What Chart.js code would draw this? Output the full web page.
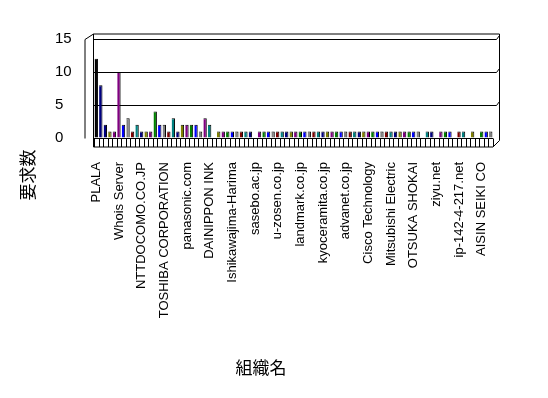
<!DOCTYPE html>
<html>
<head>
<meta charset="utf-8">
<script src="https://cdn.jsdelivr.net/npm/chart.js@4"></script>
<style>
  body { margin: 0; background: #ffffff; }
  #wrap { width: 548px; height: 398px; }
</style>
</head>
<body>
<div id="wrap"><canvas id="chart" width="548" height="398"></canvas></div>
<script>
// organisation names that appear on the axis (every 5th category)
const shownNames = [
  'PLALA', 'Whois Server', 'NTTDOCOMO.CO.JP', 'TOSHIBA CORPORATION',
  'panasonic.com', 'DAINIPPON INK', 'Ishikawajima-Harima', 'sasebo.ac.jp',
  'u-zosen.co.jp', 'landmark.co.jp', 'kyoceramita.co.jp', 'advanet.co.jp',
  'Cisco Technology', 'Mitsubishi Electric', 'OTSUKA SHOKAI', 'ziyu.net',
  'ip-142-4-217.net', 'AISIN SEIKI CO'
];

// request counts per organisation
const requestCounts = [
  12, 8, 2, 1, 1, 10, 2, 3, 1, 2,
  1, 1, 1, 4, 2, 2, 1, 3, 1, 2,
  2, 2, 2, 1, 3, 2, 0, 1, 1, 1,
  1, 1, 1, 1, 1, 0, 1, 1, 1, 1,
  1, 1, 1, 1, 1, 1, 1, 1, 1, 1,
  1, 1, 1, 1, 1, 1, 1, 1, 1, 1,
  1, 1, 1, 1, 1, 1, 1, 1, 1, 1,
  1, 1, 0, 1, 1, 0, 1, 1, 1, 0,
  1, 1, 0, 1, 0, 1, 1, 1
];

const yTicks = [0, 5, 10, 15];
const yTitle = '要求数';
const xTitle = '組織名';

const palette = ['#800000', '#008080', '#000080', '#808000', '#800080', '#008000', '#0000ff', '#808080'];
const specialColors = { 0: '#000000', 1: '#000080', 5: '#800080', 13: '#008000', 24: '#800080' };

const categories = requestCounts.map((v, i) => (i % 5 === 0 ? shownNames[i / 5] : ''));
const barColors = requestCounts.map((v, i) => specialColors[i] || palette[i % palette.length]);

// draws the 3D-looking walls, floor strip and the two axis titles
const frame3d = {
  id: 'frame3d',
  beforeDatasetsDraw(chart) {
    const { ctx, chartArea: a } = chart;
    const n = requestCounts.length;
    const step = (a.right - a.left) / n;
    ctx.save();
    ctx.strokeStyle = '#000';
    ctx.lineWidth = 1;
    ctx.beginPath();
    // back wall top + right edge
    ctx.moveTo(a.left - 0.5, a.top - 5);
    ctx.lineTo(a.right + 6.5, a.top - 5);
    ctx.lineTo(a.right + 6.5, a.bottom + 2.5);
    ctx.lineTo(a.right, a.bottom + 9);
    // left wall
    ctx.moveTo(a.left - 9, a.bottom + 0.5);
    ctx.lineTo(a.left - 9, a.top + 0.5);
    ctx.lineTo(a.left - 0.5, a.top - 5);
    ctx.lineTo(a.left - 0.5, a.bottom + 9);
    // floor front strip
    ctx.moveTo(a.left - 0.5, a.bottom + 0.5);
    ctx.lineTo(a.right, a.bottom + 0.5);
    ctx.moveTo(a.left - 0.5, a.bottom + 9);
    ctx.lineTo(a.right, a.bottom + 9);
    for (let i = 0; i <= n; i++) {
      const x = Math.round(a.left + i * step) + 0.5;
      ctx.moveTo(x, a.bottom + 0.5);
      ctx.lineTo(x, a.bottom + 9);
    }
    // gridline ends on right wall
    const y = chart.scales.y;
    [5, 10, 15].forEach(v => {
      const gy = Math.round(y.getPixelForValue(v)) + 0.5;
      ctx.moveTo(a.right, gy);
      ctx.lineTo(a.right + 3.5, gy);
      ctx.lineTo(a.right + 6.5, gy - 4);
    });
    ctx.stroke();
    ctx.restore();
  },
  afterDraw(chart) {
    const { ctx } = chart;
    ctx.save();
    ctx.fillStyle = '#000';
    ctx.font = '17px "Noto Sans CJK JP"';
    ctx.textAlign = 'center';
    ctx.textBaseline = 'middle';
    ctx.fillText(xTitle, 261, 368);
    ctx.translate(28, 175);
    ctx.rotate(-Math.PI / 2);
    ctx.fillText(yTitle, 0, 0);
    ctx.restore();
  }
};

new Chart(document.getElementById('chart'), {
  type: 'bar',
  data: {
    labels: categories,
    datasets: [{
      data: requestCounts,
      backgroundColor: barColors,
      borderColor: '#000000',
      borderWidth: { top: 1, right: 1, bottom: 0, left: 0 },
      borderSkipped: false,
      categoryPercentage: 1,
      barPercentage: 0.75
    }]
  },
  options: {
    responsive: false,
    animation: false,
    layout: { padding: { top: 39, left: 55, right: 55, bottom: 0 } },
    plugins: { legend: { display: false }, tooltip: { enabled: false } },
    scales: {
      x: {
        grid: { display: false },
        border: { display: false },
        afterFit: s => { s.height = 260; },
        ticks: {
          autoSkip: false,
          minRotation: 90,
          maxRotation: 90,
          padding: 16,
          color: '#000',
          font: { family: 'Liberation Sans', size: 13 }
        }
      },
      y: {
        min: 0,
        max: 15,
        afterFit: s => { s.width = 39; },
        afterBuildTicks: s => { s.ticks = yTicks.map(v => ({ value: v })); },
        grid: {
          color: ctx => (ctx.tick && ctx.tick.value === 0 ? 'rgba(0,0,0,0)' : '#000'),
          drawTicks: false
        },
        border: { display: false },
        ticks: {
          crossAlign: 'far',
          padding: 0,
          color: '#000',
          font: { family: 'Liberation Sans', size: 15 }
        }
      }
    }
  },
  plugins: [frame3d]
});
</script>
</body>
</html>
